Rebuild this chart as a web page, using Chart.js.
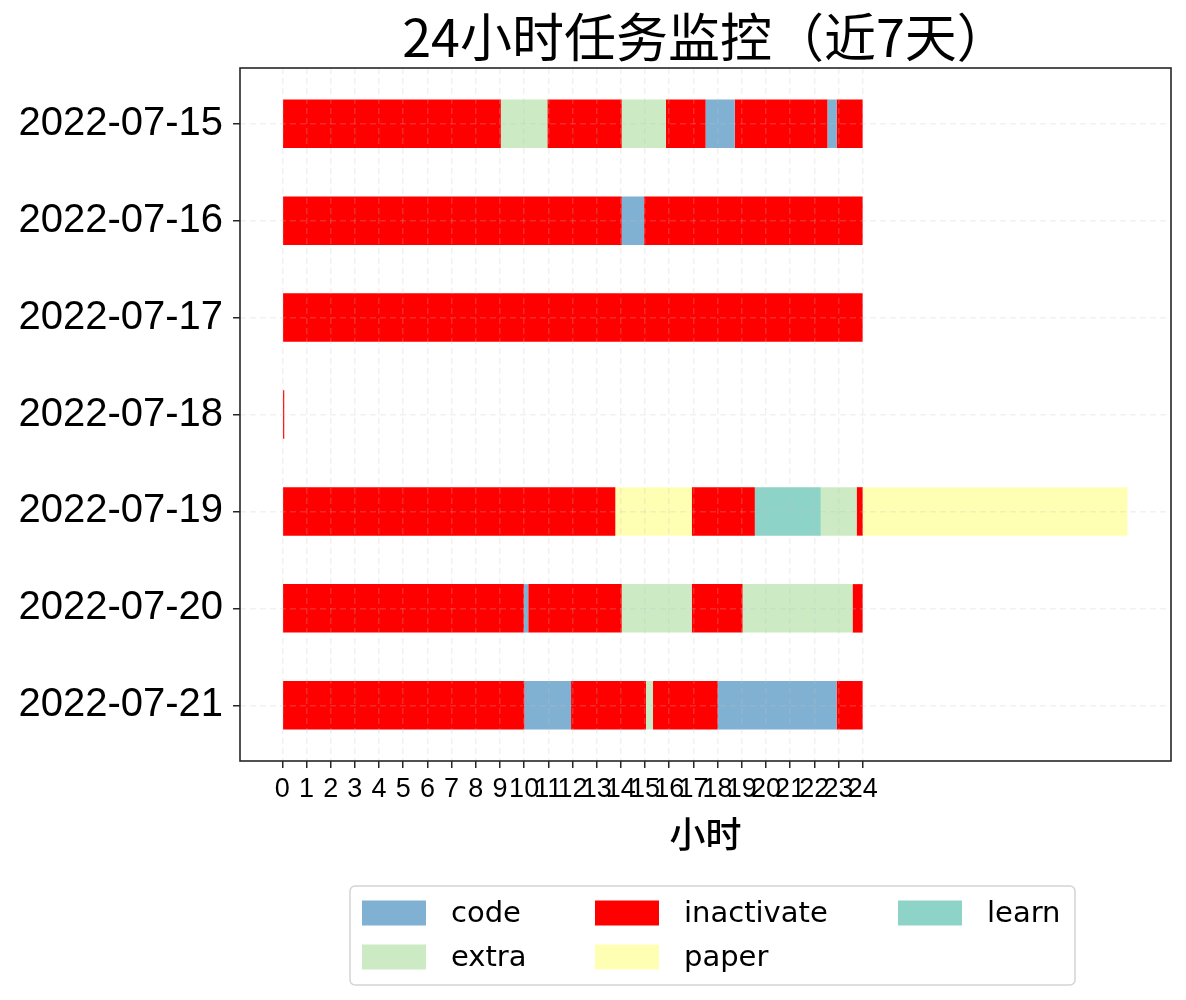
<!DOCTYPE html>
<html><head><meta charset="utf-8">
<script src="https://cdn.jsdelivr.net/npm/chart.js@4"></script>
<style>html,body{margin:0;padding:0;background:#fff;}#wrap{width:1186px;height:1000px;}</style>
</head><body><div id="wrap"><canvas id="c" width="1186" height="1000"></canvas></div>
<script>
// ---- data ----
const days = ['2022-07-15','2022-07-16','2022-07-17','2022-07-18','2022-07-19','2022-07-20','2022-07-21'];
const hourTicks = [0,1,2,3,4,5,6,7,8,9,10,11,12,13,14,15,16,17,18,19,20,21,22,23,24];
// segments: [dayIndex, startHour, endHour]
const code = [[0,17.51,18.71],[0,22.55,22.92],[1,14.04,14.96],[5,9.99,10.17],[6,10.02,11.94],[6,18.01,22.92]];
const extra = [[0,9.04,10.96],[0,14.04,15.86],[4,22.27,23.75],[5,14.04,16.93],[5,19.04,23.58],[6,15.04,15.33]];
const inactivate = [[0,0,9.04],[0,10.96,14.04],[0,15.86,17.51],[0,18.71,22.55],[0,22.92,24],
  [1,0,14.04],[1,14.96,24],[2,0,24],[3,0,0.08],
  [4,0,13.77],[4,16.94,19.54],[4,23.75,24.0],
  [5,0,9.99],[5,10.17,14.04],[5,16.93,19.04],[5,23.58,24],
  [6,0,10.02],[6,11.94,15.04],[6,15.33,18.01],[6,22.92,24]];
const paper = [[4,13.77,16.94],[4,24.0,34.95]];
const learn = [[4,19.54,22.27]];
const typeNames = ['code','extra','inactivate','paper','learn'];
const typeColors = ['#80b1d3','#ccebc5','#ff0000','#ffffb3','#8dd3c7'];
const titleText = '24小时任务监控（近7天）';
const xTitle = '小时';

const segs = {code, extra, inactivate, paper, learn};
const datasets = typeNames.map((n,i)=>({
  label:n,
  data: segs[n].map(([d,s,e])=>({y:d, x:[s,e]})),
  backgroundColor: typeColors[i],
  borderWidth:0, borderSkipped:false, inflateAmount:0,
  barPercentage:0.5, categoryPercentage:1, grouped:false
}));

const deco = {
  id:'deco',
  afterDraw(chart){
    const {ctx, chartArea:a} = chart;
    ctx.save();
    ctx.strokeStyle='#262626'; ctx.lineWidth=1.6;
    ctx.strokeRect(a.left, a.top, a.right-a.left, a.bottom-a.top);
    const cx = (a.left+a.right)/2;
    ctx.fillStyle='#000'; ctx.textAlign='center'; ctx.textBaseline='middle';
    ctx.font='52px "Noto Sans CJK SC"';
    ctx.fillText(titleText, cx, 37);
    ctx.font='500 36px "Noto Sans CJK SC"';
    ctx.fillText(xTitle, cx, 834);
    // legend
    const bx=350, by=886, bw=725, bh=99, r=5;
    ctx.beginPath();
    ctx.moveTo(bx+r,by); ctx.arcTo(bx+bw,by,bx+bw,by+bh,r); ctx.arcTo(bx+bw,by+bh,bx,by+bh,r);
    ctx.arcTo(bx,by+bh,bx,by,r); ctx.arcTo(bx,by,bx+bw,by,r); ctx.closePath();
    ctx.fillStyle='#fff'; ctx.fill();
    ctx.strokeStyle='#d4d4d4'; ctx.lineWidth=1.5; ctx.stroke();
    const colX=[362,595,898], rowY=[913,957];
    ctx.textAlign='left'; ctx.font='29px "DejaVu Sans"';
    chart.data.datasets.forEach((ds,i)=>{
      const col=Math.floor(i/2), row=i%2;
      const x=colX[col], y=rowY[row];
      ctx.fillStyle=ds.backgroundColor; ctx.fillRect(x, y-12.5, 64, 25);
      ctx.fillStyle='#000'; ctx.fillText(ds.label, x+89, y+1);
    });
    ctx.restore();
  }
};

new Chart(document.getElementById('c'), {
  type:'bar',
  data:{datasets},
  plugins:[deco],
  options:{
    indexAxis:'y', responsive:false, animation:false,
    layout:{padding:{top:68,right:15,bottom:0,left:0}},
    plugins:{legend:{display:false}, title:{display:false}, tooltip:{enabled:false}},
    scales:{
      x:{type:'linear', min:-1.75, max:36.75, offset:false,
        afterBuildTicks:(ax)=>{ax.ticks = hourTicks.map(v=>({value:v}));},
        afterFit:(ax)=>{ax.height = 239;},
        ticks:{autoSkip:false, maxRotation:0, minRotation:0, padding:5, color:'#000',
          font:{family:'Liberation Sans', size:27}, callback:(v)=>String(v)},
        grid:{z:1, offset:false, color:'rgba(190,190,190,0.22)', lineWidth:1.5, tickLength:7, tickColor:'#262626', tickWidth:1.5},
        border:{display:false, dash:[6,4]}
      },
      y:{type:'linear', min:-0.575, max:6.575, reverse:true, offset:false,
        afterBuildTicks:(ax)=>{ax.ticks = days.map((d,i)=>({value:i}));},
        afterFit:(ax)=>{ax.width = 240;},
        ticks:{autoSkip:false, padding:10, color:'#000',
          font:{family:'Liberation Sans', size:40}, callback:(v)=>days[v]},
        grid:{z:1, offset:false, color:'rgba(190,190,190,0.22)', lineWidth:1.5, tickLength:7, tickColor:'#262626', tickWidth:1.5},
        border:{display:false, dash:[6,4]}
      }
    }
  }
});
</script></body></html>
